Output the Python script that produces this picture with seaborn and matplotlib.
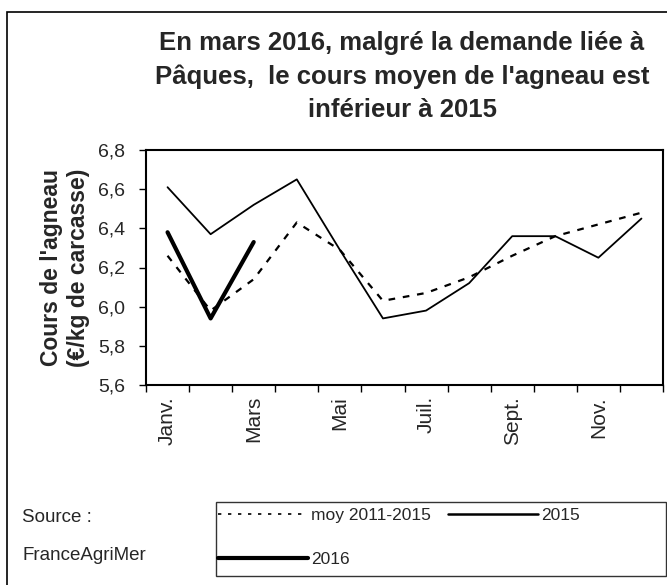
import numpy as np
import pandas as pd
import seaborn as sns
import matplotlib.pyplot as plt
from matplotlib.patches import Rectangle
from matplotlib.lines import Line2D

mois = ['Janv.', 'Févr.', 'Mars', 'Avr.', 'Mai', 'Juin', 'Juil.', 'Août', 'Sept.', 'Oct.', 'Nov.', 'Déc.']
moy_2011_2015 = [6.26, 5.98, 6.14, 6.43, 6.29, 6.03, 6.07, 6.15, 6.26, 6.36, 6.42, 6.48]
cours_2015 = [6.61, 6.37, 6.52, 6.65, 6.29, 5.94, 5.98, 6.12, 6.36, 6.36, 6.25, 6.45]
cours_2016 = [6.38, 5.94, 6.33]

sns.set_style('white')
plt.rcParams['font.family'] = ['Liberation Sans', 'DejaVu Sans']

fig = plt.figure(figsize=(6.67, 5.85), dpi=100)
ax = fig.add_axes([146 / 667, 1 - 385 / 585, (663 - 146) / 667, (385 - 150) / 585])

x = np.arange(12)
df_moy = pd.DataFrame({'x': x, 'v': moy_2011_2015})
df_15 = pd.DataFrame({'x': x, 'v': cours_2015})
df_16 = pd.DataFrame({'x': x[:3], 'v': cours_2016})

sns.lineplot(data=df_moy, x='x', y='v', ax=ax, color='black', lw=1.6)
ax.lines[-1].set_linestyle((0, (3, 3.5)))
sns.lineplot(data=df_15, x='x', y='v', ax=ax, color='black', lw=1.3)
sns.lineplot(data=df_16, x='x', y='v', ax=ax, color='black', lw=3)

ax.set_xlim(-0.5, 11.5)
ax.set_ylim(5.6, 6.8)
ax.set_xticks(np.arange(-0.5, 12, 1))
ax.set_xticklabels([])
ax.set_xticks(x[::2], minor=True)
ax.set_xticklabels(mois[::2], minor=True, rotation=90, fontsize=15)
ax.tick_params(axis='x', which='minor', length=0, pad=8)
ax.tick_params(axis='x', which='major', direction='out', length=5, width=1, color='black', bottom=True)
yt = np.arange(5.6, 6.81, 0.2)
ax.set_yticks(yt)
ax.set_yticklabels([f'{v:.1f}'.replace('.', ',') for v in yt], fontsize=14)
ax.tick_params(axis='y', direction='out', length=5, width=1, color='black', left=True, pad=10)
for s in ax.spines.values():
    s.set_color('black')
    s.set_linewidth(1.5)
ax.set_xlabel('')
ax.set_ylabel("Cours de l'agneau\n(€/kg de carcasse)", fontsize=16.5, fontweight='bold', labelpad=6)

fig.text(402 / 667, 1 - 31 / 585, 'En mars 2016, malgré la demande liée à\nPâques,  le cours moyen de l\'agneau est\ninférieur à 2015',
         ha='center', va='top', fontsize=18.5, fontweight='bold', linespacing=1.47)

fig.text(22 / 667, 1 - 518 / 585, 'Source :', fontsize=13.5, va='center')
fig.text(22 / 667, 1 - 555 / 585, 'FranceAgriMer', fontsize=13.5, va='center')

fig.patches.append(Rectangle((7 / 667, -0.1), 1.2, 1 - 12 / 585 + 0.1, transform=fig.transFigure,
                             fill=False, edgecolor='black', lw=1.2))
fig.patches.append(Rectangle((216 / 667, 1 - 576 / 585), 450 / 667, 74 / 585, transform=fig.transFigure,
                             fill=False, edgecolor='#333333', lw=1.0))

h_moy = Line2D([], [], color='black', lw=1.2, linestyle=(0, (2, 4)))
h_15 = Line2D([], [], color='black', lw=1.8)
h_16 = Line2D([], [], color='black', lw=3)
leg = fig.legend([h_moy, h_16, h_15], ['moy 2011-2015', '2016', '2015'], ncol=2,
                 loc='upper left', bbox_to_anchor=(218 / 667, 1 - 508 / 585),
                 frameon=False, fontsize=12.5,
                 handlelength=5.2, handletextpad=0.15, labelspacing=1.65, columnspacing=1.0,
                 borderaxespad=0, borderpad=0)

fig.savefig('out.png', dpi=100)
